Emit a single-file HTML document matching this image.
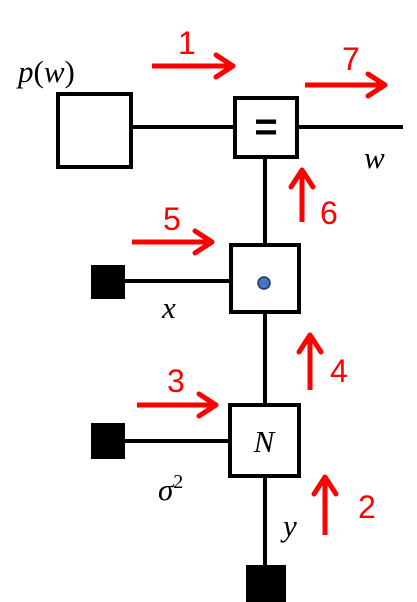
<!DOCTYPE html>
<html><head><meta charset="utf-8"><style>
html,body{margin:0;padding:0;background:#fff;width:417px;height:602px;overflow:hidden}
svg{display:block}
.m{font-family:"Liberation Serif",serif;font-style:italic;font-size:31px}
.n{font-family:"Liberation Sans",sans-serif;font-size:32px;fill:#f00}
</style></head><body>
<svg width="417" height="602" viewBox="0 0 417 602">
<defs><marker id="ah" markerUnits="userSpaceOnUse" viewBox="-4 -4 30 32" markerWidth="30" markerHeight="32" refX="19" refY="12" orient="auto"><path d="M2,1 L19,12 L2,23" fill="none" stroke="#f00" stroke-width="5" stroke-linecap="round" stroke-linejoin="round"/></marker></defs>
<g stroke="#000" stroke-width="4" fill="none">
<line x1="131" y1="127" x2="234" y2="127"/>
<line x1="297" y1="127" x2="403" y2="127"/>
<line x1="265" y1="157" x2="265" y2="244"/>
<line x1="125" y1="281" x2="230" y2="281"/>
<line x1="265" y1="312" x2="265" y2="404"/>
<line x1="124" y1="441" x2="229" y2="441"/>
<line x1="265" y1="476" x2="265" y2="566"/>
<rect x="58" y="94" width="73" height="73" fill="#fff"/>
<rect x="235" y="98" width="62" height="59" fill="#fff"/>
<rect x="231" y="245" width="68" height="67" fill="#fff"/>
<rect x="230" y="405" width="69" height="71" fill="#fff"/>
</g>
<rect x="91" y="265" width="34" height="34" fill="#000"/>
<rect x="91" y="423" width="34" height="36" fill="#000"/>
<rect x="246" y="565" width="40" height="37" fill="#000"/>
<circle cx="264" cy="283" r="6" fill="#4472c4" stroke="#1f3864" stroke-width="1.5"/>
<text x="266" y="140" text-anchor="middle" font-family="Liberation Sans,sans-serif" font-size="40" font-weight="bold">=</text>
<text class="m" x="264" y="452" text-anchor="middle">N</text>
<text class="m" x="18" y="82" font-size="34">p<tspan font-style="normal">(</tspan>w<tspan font-style="normal">)</tspan></text>
<text class="m" x="364" y="168">w</text>
<text class="m" x="162" y="318">x</text>
<text class="m" x="158" y="500">σ<tspan dy="-12" font-size="20" font-style="normal">2</tspan></text>
<text class="m" x="283" y="536">y</text>
<g stroke="#f00" stroke-width="5" marker-end="url(#ah)">
<line x1="152" y1="66" x2="233" y2="66"/>
<line x1="305" y1="85" x2="385" y2="85"/>
<line x1="302" y1="222" x2="302" y2="170"/>
<line x1="132" y1="242" x2="212" y2="242"/>
<line x1="310" y1="390" x2="310" y2="335"/>
<line x1="137" y1="405" x2="216" y2="405"/>
<line x1="325" y1="535" x2="325" y2="477"/>
</g>
<text class="n" x="178" y="54">1</text>
<text class="n" x="342" y="70">7</text>
<text class="n" x="320" y="224">6</text>
<text class="n" x="163" y="230">5</text>
<text class="n" x="330" y="382">4</text>
<text class="n" x="167" y="392">3</text>
<text class="n" x="358" y="518">2</text>
</svg>
</body></html>
